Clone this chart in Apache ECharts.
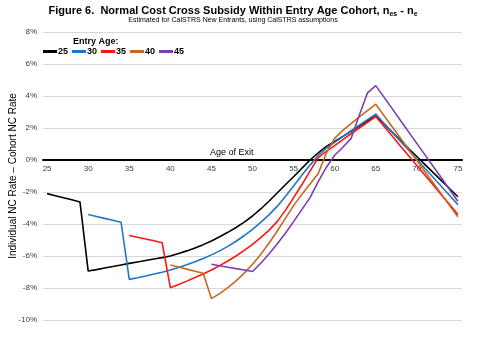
<!DOCTYPE html>
<html>
<head>
<meta charset="utf-8">
<script src="https://cdn.jsdelivr.net/npm/echarts@6/dist/echarts.min.js"></script>
<style>
  html, body { margin: 0; padding: 0; background: #fff; }
  #chart { width: 480px; height: 340px; }
</style>
</head>
<body>
<div id="chart"></div>
<script>
// Age of exit (x categories)
const ages = [25,26,27,28,29,30,31,32,33,34,35,36,37,38,39,40,41,42,43,44,45,46,47,48,49,
              50,51,52,53,54,55,56,57,58,59,60,61,62,63,64,65,66,67,68,69,70,71,72,73,74,75];

// Entry ages shown in the legend
const entryAges = ['25', '30', '35', '40', '45'];

// Individual NC rate minus cohort NC rate (%), by age of exit
const entry25 = [-2.10,-2.23,-2.36,-2.49,-2.62,
  -6.94,-6.85,-6.75,-6.66,-6.56,-6.46,-6.37,-6.28,-6.19,-6.10,
  -6.00,-5.85,-5.68,-5.50,-5.29,-5.06,-4.80,-4.52,-4.22,-3.88,
  -3.50,-3.06,-2.58,-2.06,-1.55,-1.05,-0.52,0.00,0.45,0.85,
  1.16,1.48,1.80,2.12,2.44,2.76,
  2.25,1.74,1.23,0.72,0.22,-0.29,-0.79,-1.29,-1.80,-2.30];

const entry30 = [null,null,null,null,null,
  -3.41,-3.53,-3.65,-3.77,-3.89,-7.46,-7.36,-7.25,-7.13,-7.01,
  -6.88,-6.72,-6.55,-6.36,-6.15,-5.93,-5.68,-5.40,-5.08,-4.72,
  -4.33,-3.90,-3.43,-2.90,-2.28,-1.62,-0.96,-0.32,0.28,0.75,
  1.10,1.46,1.82,2.17,2.52,2.87,
  2.30,1.74,1.17,0.61,0.04,-0.53,-1.09,-1.66,-2.22,-2.79];

const entry35 = [null,null,null,null,null,null,null,null,null,null,
  -4.72,-4.83,-4.94,-5.05,-5.17,
  -7.98,-7.78,-7.57,-7.35,-7.12,-6.87,-6.60,-6.31,-6.00,-5.65,
  -5.27,-4.85,-4.40,-3.85,-3.15,-2.35,-1.55,-0.70,0.15,0.55,
  0.90,1.27,1.64,2.00,2.36,2.72,
  2.11,1.50,0.88,0.27,-0.34,-0.95,-1.56,-2.18,-2.79,-3.40];

const entry40 = [null,null,null,null,null,null,null,null,null,null,null,null,null,null,null,
  -6.56,-6.69,-6.82,-6.95,-7.08,-8.66,-8.35,-7.98,-7.55,-7.07,
  -6.52,-5.90,-5.20,-4.45,-3.65,-2.85,-2.15,-1.50,-0.85,0.45,
  1.35,1.85,2.27,2.69,3.09,3.49,
  2.78,2.08,1.37,0.67,-0.04,-0.74,-1.44,-2.14,-2.85,-3.55];

const entry45 = [null,null,null,null,null,null,null,null,null,null,
  null,null,null,null,null,null,null,null,null,null,
  -6.52,-6.61,-6.70,-6.79,-6.88,
  -6.97,-6.45,-5.88,-5.25,-4.58,-3.85,-3.10,-2.35,-1.35,-0.45,
  0.30,0.80,1.35,2.80,4.20,4.65,
  3.93,3.21,2.48,1.76,1.04,0.32,-0.41,-1.13,-1.86,-2.58];

const seriesValues = [entry25, entry30, entry35, entry40, entry45];
const seriesColors = ['#000000', '#1f78c1', '#ff1414', '#c8681e', '#7b3fb0'];

const FONT = 'Liberation Sans, Arial, sans-serif';

// plot area geometry (y from -10% at bottom to 8% at top)
const GRID_TOP = 32, GRID_BOTTOM = 20, Y_MIN = -10, Y_MAX = 8;
const plotHeight = 340 - GRID_TOP - GRID_BOTTOM;
// shift the category axis up so it runs along the 0% line
const zeroOffset = -plotHeight * (0 - Y_MIN) / (Y_MAX - Y_MIN);

const chart = echarts.init(document.getElementById('chart'), null, { renderer: 'canvas' });

chart.setOption({
  animation: false,
  backgroundColor: '#ffffff',
  textStyle: { fontFamily: FONT },
  title: [{
    text: 'Figure 6.  Normal Cost Cross Subsidy Within Entry Age Cohort, n{s|es} - n{s|e}',
    left: 233,
    top: 4,
    padding: 0,
    textAlign: 'center',
    textStyle: {
      fontFamily: FONT, fontSize: 11, fontWeight: 'bold', color: '#000', lineHeight: 14,
      rich: {
        s: { fontFamily: FONT, fontSize: 7, fontWeight: 'bold', color: '#000', lineHeight: 8, verticalAlign: 'bottom' }
      }
    }
  }, {
    text: 'Estimated for CalSTRS New Entrants, using CalSTRS assumptions',
    left: 233,
    top: 17,
    padding: 0,
    textAlign: 'center',
    textStyle: { fontFamily: FONT, fontSize: 7, fontWeight: 'normal', color: '#000' }
  }],
  legend: {
    left: 43,
    top: 47,
    padding: 0,
    orient: 'horizontal',
    icon: 'rect',
    itemWidth: 14,
    itemHeight: 3,
    itemGap: 4,
    textStyle: { fontFamily: FONT, fontSize: 9, fontWeight: 'bold', color: '#000', padding: [0, 0, 0, -4] },
    data: entryAges
  },
  graphic: [{
    type: 'text',
    left: 73,
    top: 37,
    style: { text: 'Entry Age:', font: 'bold 9px ' + FONT, fill: '#000' }
  }, {
    type: 'text',
    left: 210,
    top: 148,
    style: { text: 'Age of Exit', font: '9px ' + FONT, fill: '#000' }
  }],
  grid: { left: 43, right: 18, top: GRID_TOP, bottom: GRID_BOTTOM, containLabel: false, outerBoundsMode: 'none' },
  xAxis: {
    type: 'category',
    data: ages,
    boundaryGap: true,
    offset: zeroOffset,
    axisLine: { onZero: false, lineStyle: { color: '#000', width: 2 } },
    axisTick: { show: false },
    axisLabel: { interval: 4, fontFamily: FONT, fontSize: 8, color: '#404040', margin: 5 },
    splitLine: { show: false }
  },
  yAxis: {
    type: 'value',
    min: Y_MIN,
    max: Y_MAX,
    interval: 2,
    name: 'Individual NC Rate \u2013 Cohort NC Rate',
    nameLocation: 'middle',
    nameGap: 25,
    nameMoveOverlap: false,
    nameTextStyle: { fontFamily: FONT, fontSize: 10, color: '#000' },
    axisLine: { show: false },
    axisTick: { show: false },
    axisLabel: { fontFamily: FONT, fontSize: 8, color: '#404040', margin: 6, formatter: v => v + '%' },
    splitLine: { lineStyle: { color: '#d9d9d9', width: 1 } }
  },
  series: entryAges.map((name, i) => ({
    name: name,
    type: 'line',
    data: seriesValues[i],
    symbol: 'none',
    connectNulls: false,
    smooth: false,
    color: seriesColors[i],
    lineStyle: { color: seriesColors[i], width: 1.6 },
    z: 3 + i
  }))
});
</script>
</body>
</html>
